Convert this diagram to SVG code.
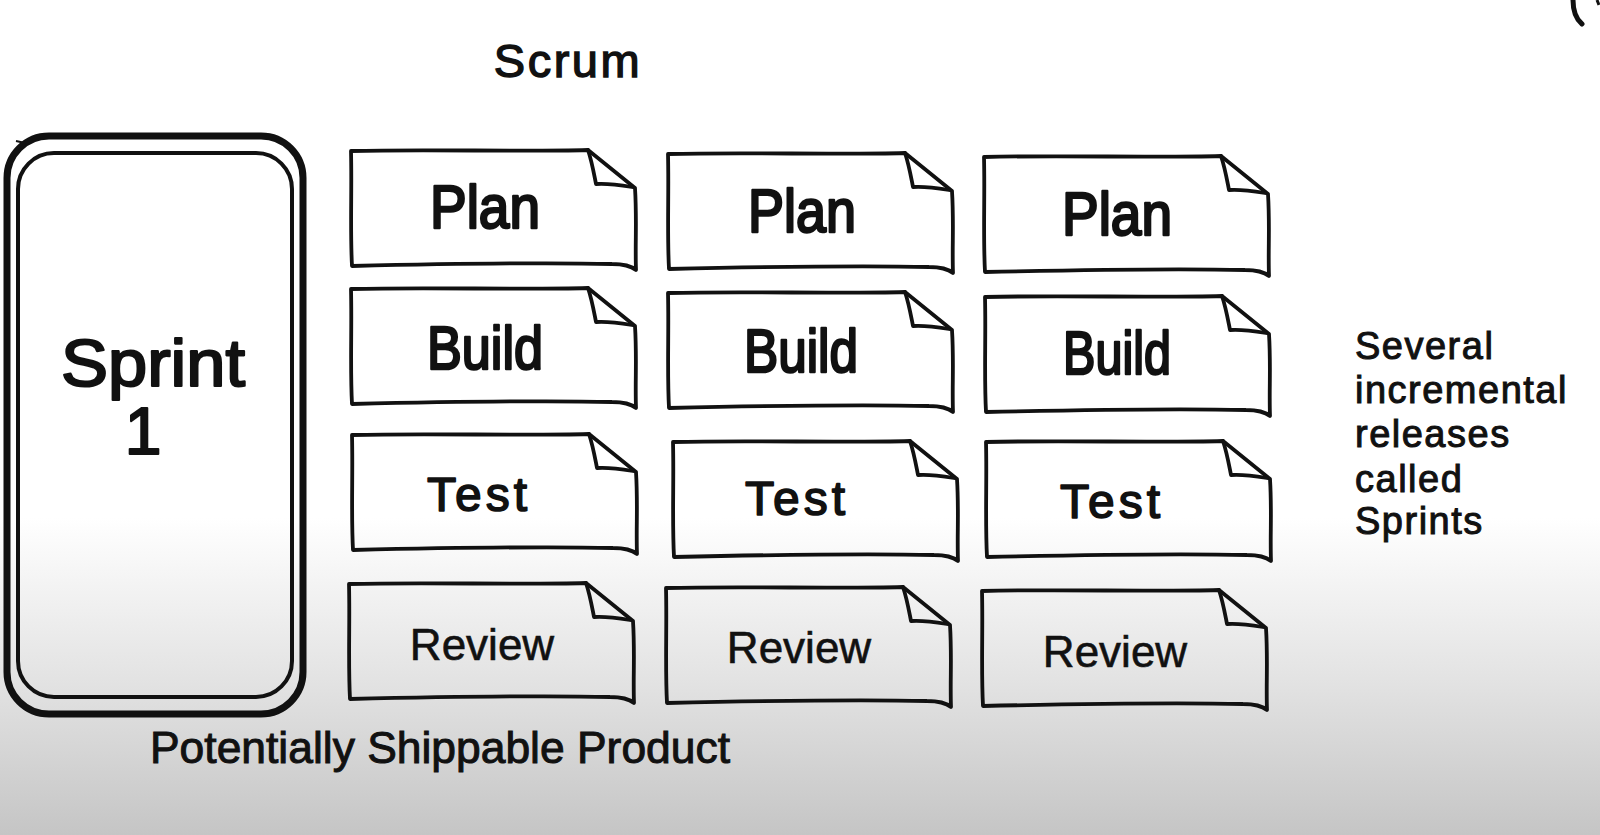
<svg xmlns="http://www.w3.org/2000/svg" width="1600" height="835" viewBox="0 0 1600 835">
<defs>
<linearGradient id="bg" x1="0" y1="0" x2="0" y2="1">
<stop offset="0" stop-color="#ffffff"/>
<stop offset="0.62" stop-color="#ffffff"/>
<stop offset="0.82" stop-color="#e2e2e2"/>
<stop offset="1" stop-color="#c5c5c5"/>
</linearGradient>
<g id="card">
<path class="edge" d="M1,1 C80,-1 170,2 238,0 L285,38 C287,70 285,95 286,120 C280,115 272,114 262,114 C180,112 90,114 2,116 C0,80 2,40 1,1 Z"/>
<path class="edge" d="M238,0 C242,12 244,24 246,34 C258,33 270,35 282,37"/>
</g>
</defs>
<style>
.edge{fill:none;stroke:#111;stroke-width:3.8;stroke-linejoin:round;stroke-linecap:round}
.t{font-family:"Liberation Sans",Arial,sans-serif;fill:#111;text-anchor:middle}
.big{font-size:62px;stroke:#111;stroke-width:2.6;stroke-linejoin:round}
.test{font-size:48px;letter-spacing:4px;stroke:#111;stroke-width:1.6;stroke-linejoin:round}
.rev{font-size:44px;stroke:#111;stroke-width:0.6}
.side{font-family:"Liberation Sans",Arial,sans-serif;fill:#111;font-size:38px;letter-spacing:1.5px;stroke:#111;stroke-width:1}
</style>
<rect x="0" y="0" width="1600" height="835" fill="url(#bg)"/>

<g id="scrum-title">
<text class="t" x="568" y="77" font-size="47" letter-spacing="2.5" stroke="#111" stroke-width="1.4">Scrum</text>
</g>

<g id="sprint1">
<rect x="7" y="136" width="296" height="578" rx="42" ry="42" fill="none" stroke="#111" stroke-width="7"/>
<rect x="18" y="153" width="274" height="544" rx="36" ry="36" fill="none" stroke="#111" stroke-width="4"/>
<path d="M16,141 L25,143 L19,151" fill="none" stroke="#111" stroke-width="2"/>
<text class="t" x="153" y="386" font-size="66" stroke="#111" stroke-width="2.2" stroke-linejoin="round" textLength="184" lengthAdjust="spacingAndGlyphs">Sprint</text>
<text class="t" x="143" y="454" font-size="66" stroke="#111" stroke-width="2.2" stroke-linejoin="round">1</text>
</g>

<g id="plan1"><use href="#card" x="350" y="150"/><text class="t big" x="485" y="228" textLength="110" lengthAdjust="spacingAndGlyphs">Plan</text></g>
<g id="plan2"><use href="#card" x="667" y="153"/><text class="t big" x="802" y="232" textLength="108" lengthAdjust="spacingAndGlyphs">Plan</text></g>
<g id="plan3"><use href="#card" x="983" y="156"/><text class="t big" x="1117" y="235" textLength="110" lengthAdjust="spacingAndGlyphs">Plan</text></g>

<g id="build1"><use href="#card" x="350" y="288"/><text class="t big" x="485" y="369" textLength="116" lengthAdjust="spacingAndGlyphs">Build</text></g>
<g id="build2"><use href="#card" x="667" y="292"/><text class="t big" x="801" y="372" textLength="114" lengthAdjust="spacingAndGlyphs">Build</text></g>
<g id="build3"><use href="#card" x="984" y="296"/><text class="t big" x="1117" y="374" textLength="108" lengthAdjust="spacingAndGlyphs">Build</text></g>

<g id="test1"><use href="#card" x="351" y="434"/><text class="t test" x="479" y="511">Test</text></g>
<g id="test2"><use href="#card" x="672" y="441"/><text class="t test" x="797" y="515">Test</text></g>
<g id="test3"><use href="#card" x="985" y="441"/><text class="t test" x="1112" y="518">Test</text></g>

<g id="review1"><use href="#card" x="348" y="583"/><text class="t rev" x="482" y="660">Review</text></g>
<g id="review2"><use href="#card" x="665" y="587"/><text class="t rev" x="799" y="663">Review</text></g>
<g id="review3"><use href="#card" x="981" y="590"/><text class="t rev" x="1115" y="667">Review</text></g>

<g id="sprints-note">
<text class="side" x="1355" y="359">Several</text>
<text class="side" x="1355" y="403">incremental</text>
<text class="side" x="1355" y="447">releases</text>
<text class="side" x="1355" y="492">called</text>
<text class="side" x="1355" y="534">Sprints</text>
</g>

<g id="product-label">
<text x="150" y="763" font-family="'Liberation Sans',Arial,sans-serif" font-size="44" fill="#111" stroke="#111" stroke-width="1" textLength="580" lengthAdjust="spacingAndGlyphs">Potentially Shippable Product</text>
</g>

<g id="corner-mark">
<path d="M1573,0 C1573,10 1576,19 1582,24" fill="none" stroke="#111" stroke-width="5" stroke-linecap="round"/>
<path d="M1597,0 L1599,5" fill="none" stroke="#111" stroke-width="3"/>
</g>

<g id="connectors"></g>
</svg>
